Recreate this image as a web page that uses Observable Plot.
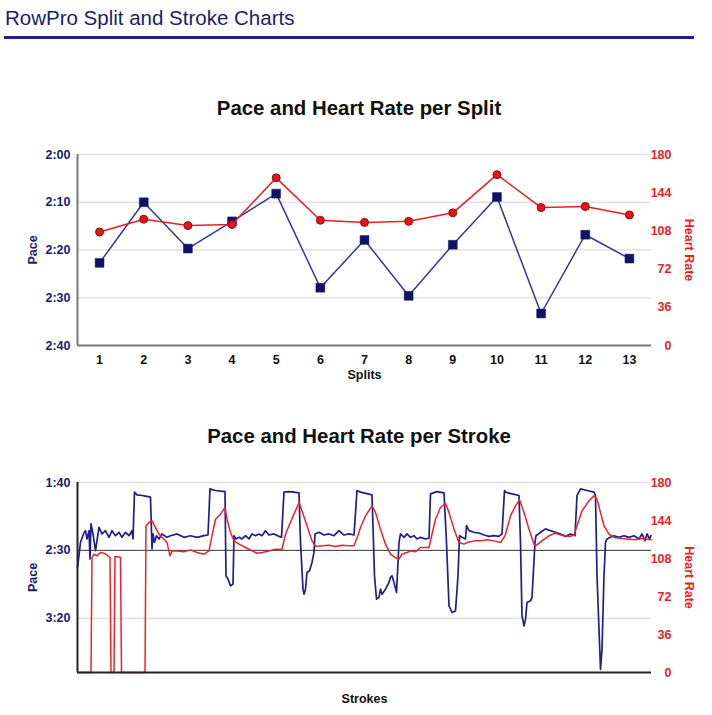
<!DOCTYPE html>
<html><head><meta charset="utf-8">
<script src="https://cdn.jsdelivr.net/npm/d3@7"></script>
<script src="https://cdn.jsdelivr.net/npm/@observablehq/plot@0.6"></script>
<style>
body{margin:0;background:#fff;font-family:"Liberation Sans",Arial,Helvetica,sans-serif;}
#page{position:relative;width:712px;height:715px;overflow:hidden;background:#fff;}
.abs{position:absolute;}
#title{left:5px;top:6px;font-size:20.5px;line-height:24px;color:#1c1c70;white-space:nowrap;}
#rule{left:4px;top:36px;width:690px;height:3px;background:#20208c;}
.ctitle{left:0;width:718px;text-align:center;font-size:20.4px;line-height:24px;font-weight:bold;color:#111;}
</style></head><body>
<div id="page">
 <div id="title" class="abs">RowPro Split and Stroke Charts</div>
 <div id="rule" class="abs"></div>
 <div class="abs ctitle" style="top:96px">Pace and Heart Rate per Split</div>
 <div id="c1" class="abs" style="left:0;top:130px"></div>
 <div class="abs ctitle" style="top:424px">Pace and Heart Rate per Stroke</div>
 <div id="c2" class="abs" style="left:0;top:460px"></div>
</div>
<script>
// ---- Split chart data ----
const splits = [1,2,3,4,5,6,7,8,9,10,11,12,13];
const splitPace = [142.7,130.0,139.7,134.0,128.2,147.9,137.9,149.6,138.9,128.9,153.3,136.8,141.8]; // seconds per 500m
const splitHR = [107,119,113,114,158,118,116,117,125,161,130,131,123];
const splitPaceTicks = [120,130,140,150,160];
const hrTicks = [0,36,72,108,144,180];

// ---- Stroke chart data ----
const strokePaceIdx = [0,1,6,13,16,19,23,25,27,31,36,43,49,56,63,69,76,83,89,96,103,109,111,114,119,129,136,146,149,151,154,158,163,169,179,186,199,213,226,239,253,261,265,276,295,297,301,306,311,313,317,323,329,336,343,349,356,363,369,376,383,393,403,408,413,423,433,443,446,451,453,456,459,464,469,473,475,483,493,503,513,523,533,543,553,559,566,589,594,598,603,606,609,616,623,626,629,633,638,643,646,653,659,666,673,679,686,696,703,706,719,733,738,743,749,756,761,764,769,776,778,783,793,803,813,823,833,843,849,854,856,869,883,886,889,893,896,899,906,909,915,917,926,936,946,956,966,976,986,995,999,1006,1019,1033,1036,1039,1043,1046,1049,1053,1056,1059,1066,1073,1083,1093,1103,1113,1123,1129,1135,1139,1144,1147];
const strokePaceSec = [162,160,144,137,135.5,141.6,135.5,156.4,130.5,137.9,150.2,133,137.9,135.5,140.4,135.5,139.2,136.7,140.4,136.7,139.2,135.5,141.6,107.1,109.1,109.6,110.1,110.8,149,137.9,144.1,139.2,141.6,137.9,140.4,139.2,137.9,140.4,139.2,140.4,139.2,138.7,104.7,105.9,106.7,168.7,171.2,176.1,174.9,139.2,141.6,140.4,141.6,139.2,141.6,137.9,139.2,137.9,139.2,135.5,138.7,137.9,139.7,140.4,107.1,106.7,107.1,107.6,144.1,178.6,182.3,178.6,166.3,165,158.9,151.5,137.9,136.7,138.7,137.9,139.2,135.5,138.7,137.9,138.7,105.9,107.1,109.1,168.7,185.9,184.7,178.6,182.3,178.6,173.6,169.9,168.7,173.6,181,144.1,137.9,140.4,137.9,140.4,139.2,141.6,140.4,141.6,141.1,108.4,106.7,107.6,144.1,190.9,195.8,194.6,168.7,139.2,140.4,141.6,131.8,135.5,136.7,137.2,138.7,139.7,139.2,139.7,137.9,105.9,107.1,108.4,109.6,144.1,198.3,205.7,200.7,188.4,187.2,184.7,144.1,139.2,136.7,134.2,135.5,136.7,137.9,139.7,137.9,139.2,109.6,104.7,105.9,107.1,109.6,168.7,208.1,237.7,222.9,168.7,144.1,141.6,140.4,139.2,140.4,139.2,140.4,139.2,141.6,137.9,142.9,137.9,141.6,139.2];
const strokeHRIdx = [0,27,29,33,39,46,53,59,65,67,73,75,81,86,88,135,137,143,149,156,163,173,179,185,189,199,213,226,239,253,263,269,276,286,295,299,306,313,323,336,349,359,369,383,396,409,416,423,433,443,449,459,469,476,489,503,516,529,543,553,563,566,576,589,596,606,616,626,636,643,649,659,666,676,686,703,709,716,726,736,743,753,763,773,779,793,806,819,833,846,853,856,866,876,884,893,903,913,916,929,943,956,969,983,993,999,1009,1023,1033,1039,1046,1053,1063,1073,1089,1103,1116,1129,1139,1147];
const strokeHRBpm = [0,0,109,112,110.5,113.7,113,111.1,108.9,0,0,109.9,109.6,108.9,0,0,138.9,142.1,143.7,137.3,131,126.3,123.1,110.5,115.2,115.2,114.3,116.2,113.7,112.1,115.2,129.5,145.2,150,156.3,145.2,132.6,124.7,121.6,118.4,115.2,113,113.7,115.2,116.8,116.8,131,139,150,161,153,139,124.7,119.4,120,120.6,119.4,120.6,120,120,132.6,137.4,148.4,157.9,151.6,135.8,121.6,112.1,108.9,107.3,112.1,113.7,115.2,114.3,118.4,118.4,131,145.2,156.3,160.4,151.6,135.8,123.1,121.6,123.1,124.7,124.7,125.7,124.7,123.1,127.9,131,148.4,157.9,163.6,151.6,135.8,121.6,120,124.7,129.5,132,130.1,128.8,130.1,139,153.1,162.6,167.4,164.2,151.6,139,131,127.9,126.9,126.3,125.7,126.9,126.3,125.7];
const strokePaceTicks = [100,150,200];

const NAVY = "#1a1a6e", RED = "#ee1c24";
const FONT = "Liberation Sans, Arial, Helvetica, sans-serif";
const fmt = s => Math.floor(s / 60) + ":" + String(Math.round(s % 60)).padStart(2, "0");

// ---- Chart 1 ----
const hr1 = d3.scaleLinear([0, 180], [160, 120]);
const splitRows = splits.map((s, i) => ({split: s, pace: splitPace[i], hr: splitHR[i]}));
const chart1 = Plot.plot({
  width: 712, height: 260, marginTop: 24, marginBottom: 45, marginLeft: 77, marginRight: 61,
  style: {fontFamily: FONT, fontSize: "12.5px", background: "white", overflow: "visible"},
  x: {type: "linear", domain: [0.5, 13.5]},
  y: {domain: [160, 120]},
  marks: [
    Plot.ruleY(splitPaceTicks.slice(0, 4), {stroke: "#e2e2e2", strokeWidth: 1.5}),
    Plot.ruleY([160], {stroke: "#777", strokeWidth: 2}),
    Plot.ruleX([0.5], {stroke: "#777", strokeWidth: 2}),
    Plot.axisX(splits, {tickSize: 0, tickPadding: 10, fontWeight: "bold", fill: "#111", tickFormat: d => d, label: null}),
    Plot.axisY(splitPaceTicks, {anchor: "left", tickSize: 0, tickPadding: 7, tickFormat: fmt, fontWeight: "bold", fill: NAVY, label: null}),
    Plot.axisY(hrTicks.map(hr1), {anchor: "right", tickSize: 0, tickPadding: 20, textAnchor: "end", tickFormat: d => Math.round(hr1.invert(d)), fontWeight: "bold", fill: RED, label: null}),
    Plot.line(splitRows, {x: "split", y: "pace", stroke: "#3535a0", strokeWidth: 1.5}),
    Plot.dot(splitRows, {x: "split", y: "pace", symbol: "square", r: 5, fill: "#121268", stroke: "#121268", strokeWidth: 0.5}),
    Plot.line(splitRows, {x: "split", y: d => hr1(d.hr), stroke: RED, strokeWidth: 1.5}),
    Plot.dot(splitRows, {x: "split", y: d => hr1(d.hr), r: 4, fill: "#e3141c", stroke: "#8a1010", strokeWidth: 1}),
    Plot.text(["Splits"], {frameAnchor: "bottom", dy: 29, fontWeight: "bold", fill: "#111", lineAnchor: "middle", textAnchor: "middle"}),
    Plot.text(["Pace"], {frameAnchor: "left", dx: -45, rotate: -90, fontWeight: "bold", fill: NAVY, textAnchor: "middle"}),
    Plot.text(["Heart Rate"], {frameAnchor: "right", dx: 37, rotate: 90, fontWeight: "bold", fill: RED, textAnchor: "middle"})
  ]
});
document.getElementById("c1").appendChild(chart1);

// ---- Chart 2 ----
const hr2 = d3.scaleLinear([0, 180], [240, 100]);
const paceRows = strokePaceIdx.map((s, i) => ({stroke: s, pace: strokePaceSec[i]}));
const hrRows = strokeHRIdx.map((s, i) => ({stroke: s, hr: strokeHRBpm[i]}));
const chart2 = Plot.plot({
  width: 712, height: 255, marginTop: 22, marginBottom: 43, marginLeft: 77, marginRight: 61,
  style: {fontFamily: FONT, fontSize: "12.5px", background: "white", overflow: "visible"},
  x: {domain: [0, 1148], axis: null},
  y: {domain: [240, 100]},
  marks: [
    Plot.ruleY([100, 200], {stroke: "#e2e2e2", strokeWidth: 1.5}),
    Plot.ruleY([150], {stroke: "#333", strokeWidth: 1}),
    Plot.line(paceRows, {x: "stroke", y: "pace", stroke: "#1f1f8c", strokeWidth: 1.7}),
    Plot.line(hrRows, {x: "stroke", y: d => hr2(d.hr), stroke: "#f0202a", strokeWidth: 1.5}),
    Plot.ruleY([240], {stroke: "#222", strokeWidth: 2}),
    Plot.ruleX([0], {stroke: "#222", strokeWidth: 2}),
    Plot.axisY(strokePaceTicks, {anchor: "left", tickSize: 0, tickPadding: 7, tickFormat: fmt, fontWeight: "bold", fill: NAVY, label: null}),
    Plot.axisY(hrTicks.map(hr2), {anchor: "right", tickSize: 0, tickPadding: 20, textAnchor: "end", tickFormat: d => Math.round(hr2.invert(d)), fontWeight: "bold", fill: RED, label: null}),
    Plot.text(["Strokes"], {frameAnchor: "bottom", dy: 26, fontWeight: "bold", fill: "#111", lineAnchor: "middle", textAnchor: "middle"}),
    Plot.text(["Pace"], {frameAnchor: "left", dx: -45, rotate: -90, fontWeight: "bold", fill: NAVY, textAnchor: "middle"}),
    Plot.text(["Heart Rate"], {frameAnchor: "right", dx: 37, rotate: 90, fontWeight: "bold", fill: RED, textAnchor: "middle"})
  ]
});
document.getElementById("c2").appendChild(chart2);
</script>
</body></html>
